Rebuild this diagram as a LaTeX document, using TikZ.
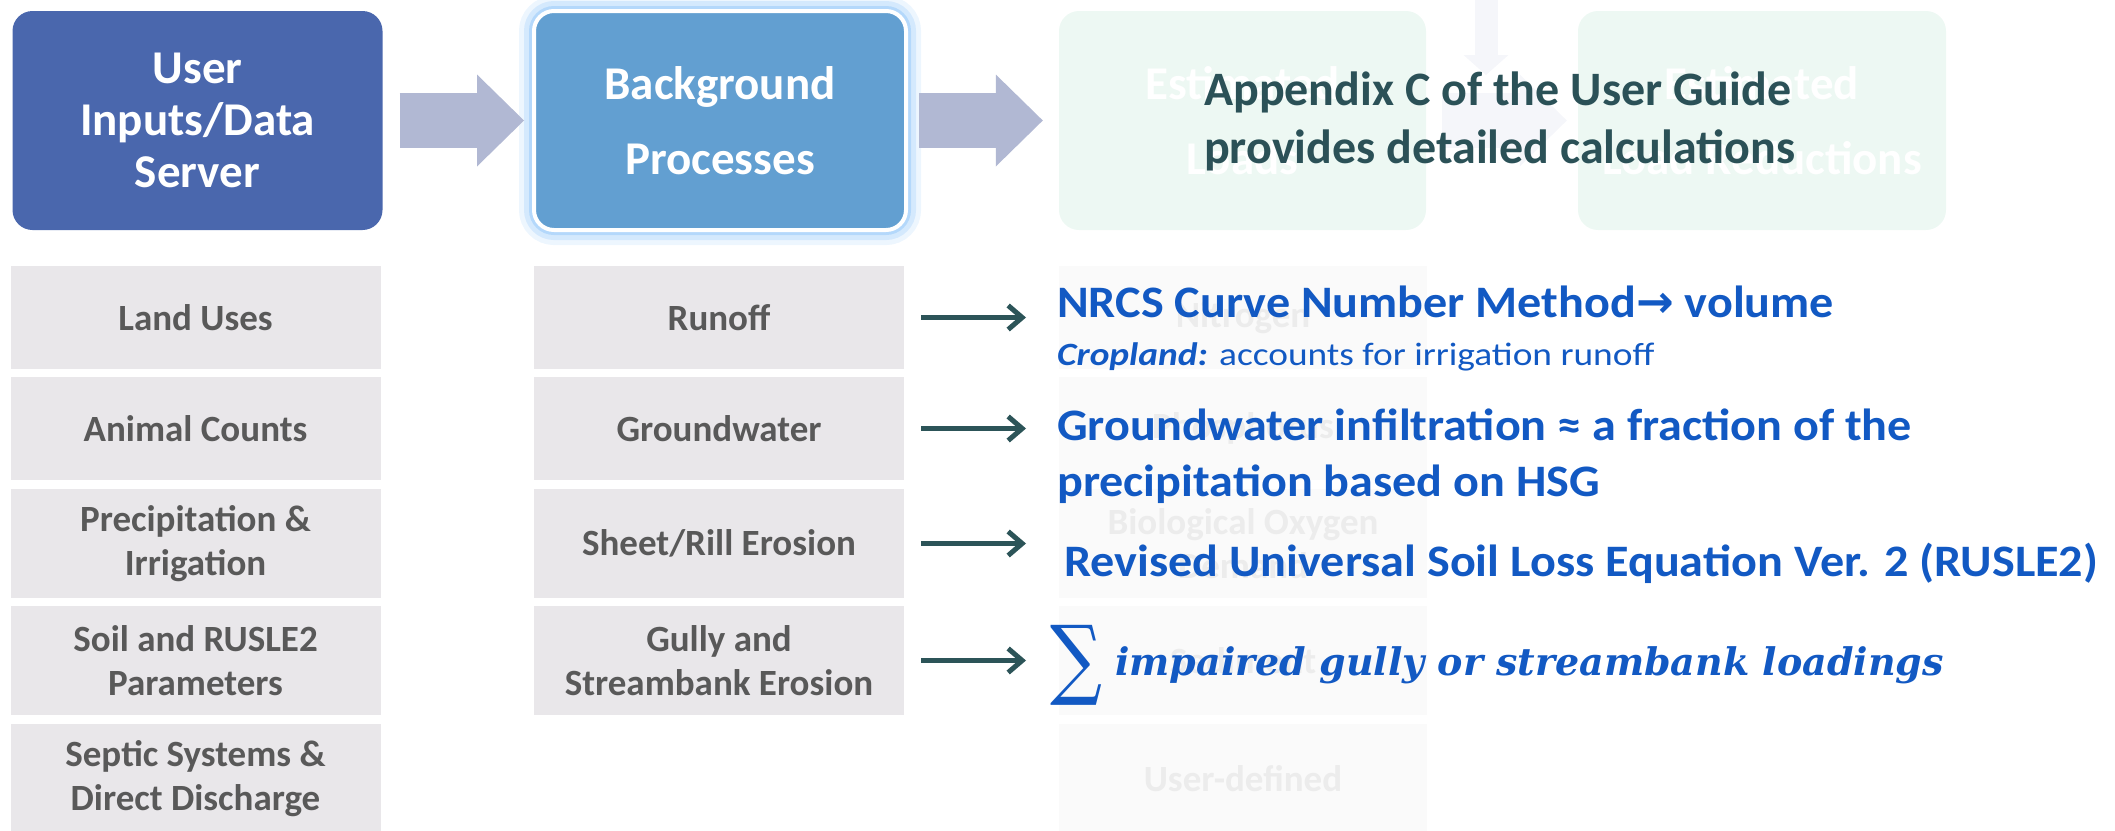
\documentclass[tikz,border=0pt]{standalone}
\usepackage{fontspec}
\usepackage{graphicx}
\setmainfont{Carlito}
\newfontfamily\notefont[FakeStretch=1.07]{Carlito}
\newfontfamily\smallnotefont[FakeStretch=1.15]{Carlito}
\newfontfamily\arrowfont{DejaVu Sans}
\newfontfamily\serifit{DejaVu Serif}
\usetikzlibrary{arrows.meta}

\definecolor{userblue}{HTML}{4A67AD}
\definecolor{procblue}{HTML}{629FD1}
\definecolor{glowblue}{HTML}{A6D1FA}
\definecolor{blockgrey}{HTML}{B1B8D3}
\definecolor{boxgrey}{HTML}{E9E7EA}
\definecolor{labelgrey}{HTML}{595959}
\definecolor{arrowteal}{HTML}{2C5458}
\definecolor{noteblue}{HTML}{1259C3}
\definecolor{noteteal}{HTML}{2B5157}
\definecolor{mintfade}{HTML}{EDF8F3}
\definecolor{boxfade}{HTML}{FAFAFA}
\definecolor{textfade}{HTML}{ECECEC}
\definecolor{arrowfade}{HTML}{F5F6FA}

\begin{document}
\begin{tikzpicture}[x=1pt,y=-1pt,
    headbox/.style={rounded corners=20pt, minimum width=370pt, minimum height=219pt,
      text=white, align=center, font=\fontsize{47}{52}\selectfont\bfseries},
    listbox/.style={fill=boxgrey, minimum width=370pt, text=labelgrey, align=center,
      font=\fontsize{37}{44}\selectfont\bfseries},
    fadebox/.style={fill=boxfade, minimum width=368pt, text=textfade, align=center,
      font=\fontsize{37}{44}\selectfont\bfseries},
    blockarrow/.style={draw=#1, line width=55pt, -{Triangle[length=47pt,width=92pt,line width=0pt]}},
    flowarrow/.style={draw=arrowteal, line width=5pt, -{Straight Barb[length=14pt,width=24pt]}},
    note/.style={anchor=base west, inner sep=0pt, text=noteblue},
  ]
  \useasboundingbox (0,0) rectangle (2115,830);

  % faded part behind the notes
  \node[headbox, fill=mintfade, minimum width=367pt, font=\fontsize{47}{75}\selectfont\bfseries]
    (estl) at (1242.5,120.5) {Estimated\\Loads};
  \node[headbox, fill=mintfade, minimum width=368pt, font=\fontsize{47}{75}\selectfont\bfseries]
    (estr) at (1762,120.5) {Estimated\\Load Reductions};
  \coordinate (fadetop) at (1486,-20);
  \coordinate (fadedown) at (1486,75);
  \draw[draw=arrowfade, line width=23pt, -{Triangle[length=20pt,width=45pt,line width=0pt]}] (fadetop) -- (fadedown);
  \draw[blockarrow=arrowfade, shorten <=16pt, shorten >=11pt] (estl.east) -- (estr.west);

  \node[fadebox, minimum height=103pt] (nitro) at (1243,317.5) {Nitrogen};
  \node[fadebox, minimum height=103pt] (phos) at (1243,428.5) {Phosphorus};
  \node[fadebox, minimum height=109pt] (bod) at (1243,543.5) {Biological Oxygen\\Demand};
  \node[fadebox, minimum height=109pt] (sed) at (1243,660.5) {Sediment};
  \node[fadebox, minimum height=110pt] (udef) at (1243,779) {User-defined};

  % top row
  \node[headbox, fill=userblue] (user) at (197.5,120.5) {User\\Inputs/Data\\Server};
  \node[headbox, fill=procblue, draw=white, line width=4pt, minimum width=372pt,
    font=\fontsize{47}{75}\selectfont\bfseries,
    preaction={draw=glowblue, line width=30pt, opacity=0.2},
    preaction={draw=glowblue, line width=20pt, opacity=0.35},
    preaction={draw=glowblue, line width=10pt, opacity=0.7}]
    (bg) at (720,120.5) {Background\\Processes};

  \draw[blockarrow=blockgrey, shorten <=17pt, shorten >=8pt] (user.east) -- (bg.west);
  \draw[blockarrow=blockgrey, shorten <=11pt, shorten >=16pt] (bg.east) -- (estl.west);

  % inputs
  \node[listbox, minimum height=103pt] (land) at (195.5,317.5) {Land Uses};
  \node[listbox, minimum height=103pt] (animal) at (195.5,428.5) {Animal Counts};
  \node[listbox, minimum height=109pt] (precip) at (195.5,543.5) {Precipitation \&\\Irrigation};
  \node[listbox, minimum height=109pt] (soil) at (195.5,660.5) {Soil and RUSLE2\\Parameters};
  \node[listbox, minimum height=110pt] (septic) at (195.5,779) {Septic Systems \&\\Direct Discharge};

  % processes
  \node[listbox, minimum height=103pt] (runoff) at (719,317.5) {Runoff};
  \node[listbox, minimum height=103pt] (gw) at (719,428.5) {Groundwater};
  \node[listbox, minimum height=109pt] (sheet) at (719,543.5) {Sheet/Rill Erosion};
  \node[listbox, minimum height=109pt] (gully) at (719,660.5) {Gully and\\Streambank Erosion};

  % notes
  \node[anchor=base west, inner sep=0pt, text=noteteal, font=\fontsize{48}{58}\selectfont\bfseries]
    (appx) at (1204,105) {Appendix C of the User Guide};
  \node[anchor=base west, inner sep=0pt, text=noteteal, font=\fontsize{48}{58}\selectfont\bfseries]
    (appx2) at (1204,163) {provides detailed calculations};

  \node[note, font=\fontsize{45}{52}\selectfont\notefont\bfseries] (nrcs) at (1057,317)
    {NRCS Curve Number Method{\arrowfont\bfseries →} volume};
  \node[note, font=\fontsize{32.5}{38}\selectfont\smallnotefont] (crop) at (1057,365)
    {\textbf{\textit{Cropland:}} accounts for irrigation runoff};
  \node[note, font=\fontsize{45}{52}\selectfont\notefont\bfseries] (gwnote) at (1057,440)
    {Groundwater infiltration ≈ a fraction of the};
  \node[note, font=\fontsize{45}{52}\selectfont\notefont\bfseries] (gwnote2) at (1057,496)
    {precipitation based on HSG};
  \node[note, font=\fontsize{45}{52}\selectfont\notefont\bfseries] (rusle) at (1064,576)
    {Revised Universal Soil Loss Equation Ver. 2 (RUSLE2)};
  \node[note, font=\fontsize{38}{44}\selectfont\serifit\bfseries\itshape] (gullynote) at (1115,675)
    {impaired gully or streambank loadings};
  \node[inner sep=0pt, text=noteblue] (sigma) at (1076,665)
    {\resizebox*{52pt}{80pt}{\serifit ∑}};

  \coordinate (tipline) at (1026,0);
  \foreach \src in {runoff,gw,sheet,gully}
    \draw[flowarrow, shorten <=17pt] (\src.east) -- (\src.east -| tipline);

\end{tikzpicture}
\end{document}
